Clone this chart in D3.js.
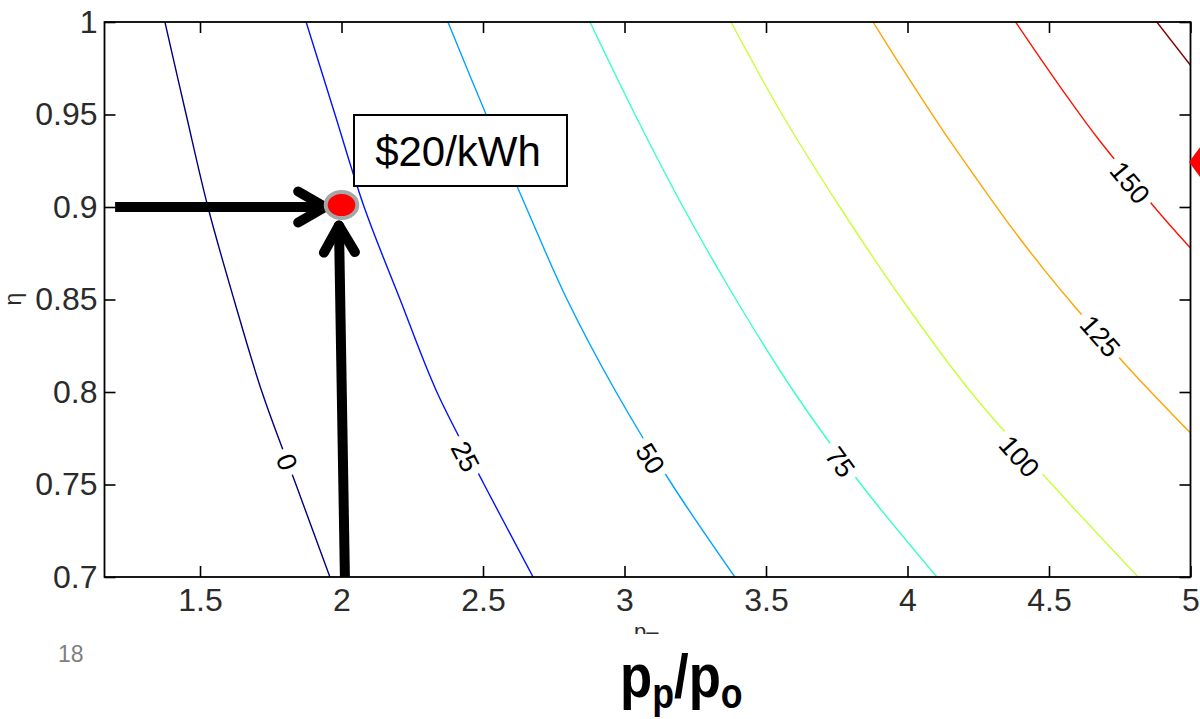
<!DOCTYPE html>
<html>
<head>
<meta charset="utf-8">
<script src="https://cdn.jsdelivr.net/npm/d3@7"></script>
<style>
  body { margin: 0; background: #fff; }
  svg { display: block; }
</style>
</head>
<body>
<svg id="chart" width="1200" height="719"></svg>
<script>
// ---- axis ticks ----
const xTicks = [1.5, 2, 2.5, 3, 3.5, 4, 4.5, 5];
const xTickLabels = ["1.5", "2", "2.5", "3", "3.5", "4", "4.5", "5"];
const yTicks = [0.7, 0.75, 0.8, 0.85, 0.9, 0.95, 1];
const yTickLabels = ["0.7", "0.75", "0.8", "0.85", "0.9", "0.95", "1"];

// ---- contour levels ($/kWh) and their iso-lines as [p_p/p_o, η] ----
const levels = [0, 25, 50, 75, 100, 125, 150, 175];
const contour0   = [[1.376, 1.0], [1.451, 0.95], [1.528, 0.9], [1.620, 0.85], [1.719, 0.8], [1.839, 0.75], [1.959, 0.7]];
const contour25  = [[1.875, 1.0], [1.977, 0.95], [2.080, 0.9], [2.207, 0.85], [2.337, 0.8], [2.504, 0.75], [2.677, 0.7]];
const contour50  = [[2.376, 1.0], [2.511, 0.95], [2.652, 0.9], [2.797, 0.85], [2.970, 0.8], [3.168, 0.75], [3.390, 0.7]];
const contour75  = [[2.878, 1.0], [3.037, 0.95], [3.207, 0.9], [3.394, 0.85], [3.599, 0.8], [3.836, 0.75], [4.104, 0.7]];
const contour100 = [[3.376, 1.0], [3.557, 0.95], [3.761, 0.9], [3.981, 0.85], [4.224, 0.8], [4.511, 0.75], [4.815, 0.7]];
const contour125 = [[3.878, 1.0], [4.001, 0.9703], [4.117, 0.9432], [4.247, 0.9146], [4.374, 0.8876], [4.484, 0.8659], [4.586, 0.847], [4.781, 0.813], [5.0, 0.7778]];
const contour150 = [[4.382, 1.0], [4.450, 0.9847], [4.565, 0.9595], [4.677, 0.9362], [4.890, 0.8968], [5.0, 0.8778]];
const contour175 = [[4.881, 1.0], [5.0, 0.9766]];
const contourLines = [contour0, contour25, contour50, contour75, contour100, contour125, contour150, contour175];

// inline level labels: text and anchor point [p_p/p_o, η]
const labelText = ["0", "25", "50", "75", "100", "125", "150"];
const labelPos = [[1.806, 0.762], [2.436, 0.765], [3.090, 0.764], [3.761, 0.762], [4.394, 0.765], [4.680, 0.830], [4.785, 0.913]];

// highlighted design point and its guide arrows
const designPoint = [2, 0.9];
const designLabel = "$20/kWh";
const arrowFromLeft = [[1.2, 0.9], [1.9417, 0.9]];
const arrowFromBelow = [[2.012, 0.7], [1.991, 0.890]];
const edgeMarker = [5, 0.9243];

// ---- layout ----
const svg = d3.select("#chart");
const plot = { left: 104.5, right: 1190.5, top: 22, bottom: 577 };

const x = d3.scaleLinear().domain([1.1625, 5]).range([plot.left, plot.right]);
const y = d3.scaleLinear().domain([0.7, 1]).range([plot.bottom, plot.top]);

// MATLAB "jet" colormap
function jet(t) {
  const c = v => Math.max(0, Math.min(1, v));
  return d3.rgb(
    255 * c(1.5 - Math.abs(4 * t - 3)),
    255 * c(1.5 - Math.abs(4 * t - 2)),
    255 * c(1.5 - Math.abs(4 * t - 1))
  ).formatHex();
}
const colour = i => jet(i / (levels.length - 1));

svg.append("defs").append("clipPath").attr("id", "plotClip")
  .append("rect")
  .attr("x", plot.left).attr("y", plot.top)
  .attr("width", plot.right - plot.left).attr("height", plot.bottom - plot.top);

// ---- contour lines ----
const line = d3.line().x(d => x(d[0])).y(d => y(d[1])).curve(d3.curveCatmullRom);
const gContours = svg.append("g").attr("clip-path", "url(#plotClip)");
gContours.selectAll("path.contour")
  .data(contourLines)
  .join("path")
  .attr("class", "contour")
  .attr("d", line)
  .attr("fill", "none")
  .attr("stroke", (d, i) => colour(i))
  .attr("stroke-width", 1.4);

// ---- level labels, rotated along their line ----
function angleAt(pts, eta) {
  for (let i = 0; i < pts.length - 1; i++) {
    const a = pts[i], b = pts[i + 1];
    if (eta <= a[1] && eta >= b[1]) {
      return Math.atan2(y(b[1]) - y(a[1]), x(b[0]) - x(a[0])) * 180 / Math.PI;
    }
  }
  return 60;
}
const fontLabel = 27;
labelText.forEach((txt, i) => {
  const [lx, ly] = labelPos[i];
  const ang = angleAt(contourLines[i], ly);
  const g = gContours.append("g")
    .attr("transform", `translate(${x(lx)},${y(ly)}) rotate(${ang})`);
  const bg = g.append("rect").attr("fill", "#fff");
  const t = g.append("text")
    .attr("text-anchor", "middle")
    .attr("dominant-baseline", "central")
    .attr("font-family", "Liberation Sans, Arial, sans-serif")
    .attr("font-size", fontLabel)
    .attr("fill", "#000")
    .text(txt);
  const w = t.node().getComputedTextLength() + 12;
  bg.attr("x", -w / 2).attr("y", -fontLabel * 0.45).attr("width", w).attr("height", fontLabel * 0.9);
});

// ---- axes: ticks inward on all four sides ----
const tickFont = "Liberation Sans, Arial, Helvetica, sans-serif";
function styleAxis(g) {
  g.select(".domain").remove();
  g.selectAll(".tick line").attr("stroke", "#000").attr("stroke-width", 1.6);
  g.selectAll(".tick text")
    .attr("font-family", tickFont)
    .attr("font-size", 32)
    .attr("fill", "#2b2b2b");
}
svg.append("g").attr("transform", `translate(0,${plot.bottom})`)
  .call(d3.axisBottom(x).tickValues(xTicks).tickFormat((d, i) => xTickLabels[i])
    .tickSizeInner(-11).tickSizeOuter(0).tickPadding(11))
  .call(styleAxis);
svg.append("g").attr("transform", `translate(0,${plot.top})`)
  .call(d3.axisTop(x).tickValues(xTicks).tickFormat("")
    .tickSizeInner(-11).tickSizeOuter(0))
  .call(styleAxis);
svg.append("g").attr("transform", `translate(${plot.left},0)`)
  .call(d3.axisLeft(y).tickValues(yTicks).tickFormat((d, i) => yTickLabels[i])
    .tickSizeInner(-11).tickSizeOuter(0).tickPadding(7))
  .call(styleAxis);
svg.append("g").attr("transform", `translate(${plot.right},0)`)
  .call(d3.axisRight(y).tickValues(yTicks).tickFormat("")
    .tickSizeInner(-11).tickSizeOuter(0))
  .call(styleAxis);

svg.append("rect")
  .attr("x", plot.left).attr("y", plot.top)
  .attr("width", plot.right - plot.left).attr("height", plot.bottom - plot.top)
  .attr("fill", "none").attr("stroke", "#000").attr("stroke-width", 1.8);

// y-axis title (η), rotated
svg.append("text")
  .attr("transform", `translate(21,299) rotate(-90)`)
  .attr("text-anchor", "middle")
  .attr("font-family", tickFont)
  .attr("font-size", 23)
  .attr("fill", "#2b2b2b")
  .text("η");

// remnant of the axis title just below the tick labels
svg.append("defs").append("clipPath").attr("id", "remnantClip")
  .append("rect").attr("x", 600).attr("y", 626).attr("width", 100).attr("height", 8);
svg.append("text")
  .attr("clip-path", "url(#remnantClip)")
  .attr("x", 634).attr("y", 639)
  .attr("font-family", tickFont)
  .attr("font-size", 22)
  .attr("fill", "#2b2b2b")
  .text("p–");

// ---- guide arrows towards the design point ----
const gArrows = svg.append("g");
function arrow(pts) {
  const p0 = [x(pts[0][0]), y(pts[0][1])];
  const p1 = [x(pts[1][0]), y(pts[1][1])];
  gArrows.append("path")
    .attr("d", d3.line()([p0, p1]))
    .attr("stroke", "#000").attr("stroke-width", 10).attr("fill", "none");
  const a = Math.atan2(p1[1] - p0[1], p1[0] - p0[0]);
  const len = 31, spread = Math.PI / 6;
  [a + Math.PI - spread, a + Math.PI + spread].forEach(b => {
    gArrows.append("path")
      .attr("d", d3.line()([p1, [p1[0] + len * Math.cos(b), p1[1] + len * Math.sin(b)]]))
      .attr("stroke", "#000").attr("stroke-width", 10)
      .attr("stroke-linecap", "round").attr("fill", "none");
  });
}
arrow(arrowFromLeft);
arrow(arrowFromBelow);

// design point marker
svg.append("ellipse")
  .attr("cx", x(designPoint[0])).attr("cy", y(designPoint[1]) - 2)
  .attr("rx", 15.8).attr("ry", 13)
  .attr("fill", "#ff0000")
  .attr("stroke", "#a6a6a6").attr("stroke-width", 4);

// callout box
svg.append("rect")
  .attr("x", 354).attr("y", 115).attr("width", 213).attr("height", 71)
  .attr("fill", "#fff").attr("stroke", "#000").attr("stroke-width", 2);
svg.append("text")
  .attr("x", 458).attr("y", 166)
  .attr("text-anchor", "middle")
  .attr("font-family", "Liberation Sans, Arial, sans-serif")
  .attr("font-size", 42)
  .attr("fill", "#000")
  .text(designLabel);

// marker on the right edge
const ex = x(edgeMarker[0]), ey = y(edgeMarker[1]);
svg.append("path")
  .attr("d", d3.line()([[ex - 1.5, ey], [ex + 14, ey - 21], [ex + 14, ey + 21]]) + "Z")
  .attr("fill", "#ff0000");

// ---- slide furniture ----
svg.append("text")
  .attr("x", 58).attr("y", 662)
  .attr("font-family", "Liberation Sans, Arial, sans-serif")
  .attr("font-size", 23)
  .attr("fill", "#7f7f7f")
  .text("18");

const title = svg.append("text")
  .attr("transform", "translate(620,697) scale(0.85,1)")
  .attr("font-family", "Liberation Sans, Arial, sans-serif")
  .attr("font-weight", "bold")
  .attr("font-size", 62)
  .attr("fill", "#000");
title.append("tspan").text("p");
title.append("tspan").attr("font-size", 42).attr("dy", 11).text("p");
title.append("tspan").attr("dy", -11).text("/p");
title.append("tspan").attr("font-size", 42).attr("dy", 11).text("o");
</script>
</body>
</html>
